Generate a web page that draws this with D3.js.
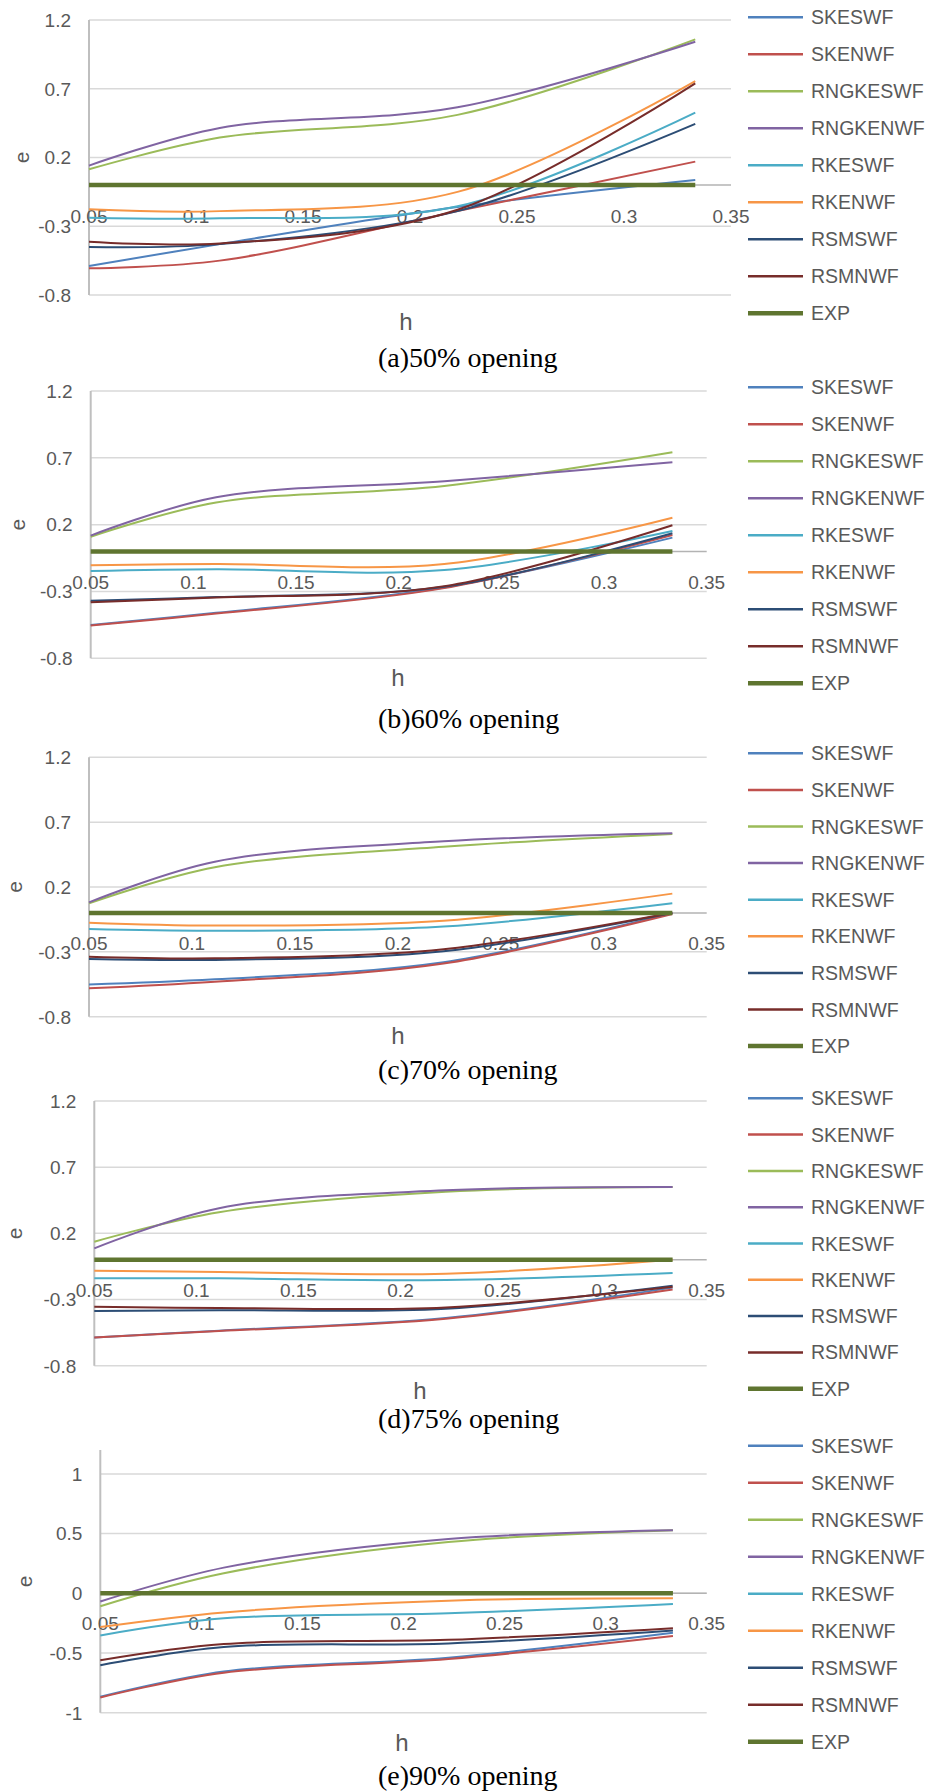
<!DOCTYPE html>
<html>
<head>
<meta charset="utf-8">
<script src="https://cdn.jsdelivr.net/npm/d3@7"></script>
<style>
  body { margin: 0; background: #fff; }
  svg { display: block; }
  text { font-family: "Liberation Sans", Arial, sans-serif; fill: #595959; }
  .caption { font-family: "Liberation Serif", "Times New Roman", serif; fill: #000; }
</style>
</head>
<body>
<svg width="927" height="1791"></svg>
<script>
// data points sit at h = 0.05, 1/9, 2/9, 1/3
var hValues = [0.05, 0.1111, 0.2222, 0.3333];
var seriesNames = ['SKESWF', 'SKENWF', 'RNGKESWF', 'RNGKENWF', 'RKESWF', 'RKENWF', 'RSMSWF', 'RSMNWF', 'EXP'];
var xTicks = [0.05, 0.1, 0.15, 0.2, 0.25, 0.3, 0.35];
var yTicksA = [1.2, 0.7, 0.2, -0.3, -0.8];
var yTicksE = [1, 0.5, 0, -0.5, -1];
var captions = ['(a)50% opening', '(b)60% opening', '(c)70% opening', '(d)75% opening', '(e)90% opening'];

// e values, one row per series (same order as seriesNames)
var e50 = [
  [-0.589, -0.43, -0.16, 0.036],
  [-0.606, -0.55, -0.19, 0.170],
  [0.114, 0.345, 0.51, 1.059],
  [0.141, 0.415, 0.565, 1.042],
  [-0.238, -0.242, -0.155, 0.526],
  [-0.177, -0.19, -0.05, 0.756],
  [-0.451, -0.43, -0.19, 0.444],
  [-0.412, -0.425, -0.18, 0.739],
  [0, 0, 0, 0]
];
var e60 = [
  [-0.55, -0.46, -0.27, 0.103],
  [-0.555, -0.465, -0.275, 0.123],
  [0.110, 0.365, 0.49, 0.741],
  [0.118, 0.405, 0.525, 0.666],
  [-0.147, -0.134, -0.14, 0.153],
  [-0.104, -0.094, -0.095, 0.252],
  [-0.369, -0.342, -0.265, 0.135],
  [-0.381, -0.345, -0.26, 0.195],
  [0, 0, 0, 0]
];
var e70 = [
  [-0.551, -0.512, -0.38, -0.003],
  [-0.581, -0.53, -0.39, -0.008],
  [0.074, 0.352, 0.51, 0.609],
  [0.082, 0.395, 0.552, 0.614],
  [-0.124, -0.137, -0.105, 0.074],
  [-0.075, -0.097, -0.06, 0.149],
  [-0.355, -0.362, -0.295, 0.0],
  [-0.337, -0.35, -0.28, 0.002],
  [0, 0, 0, 0]
];
var e75 = [
  [-0.586, -0.535, -0.44, -0.21],
  [-0.586, -0.538, -0.445, -0.225],
  [0.137, 0.36, 0.515, 0.55],
  [0.087, 0.39, 0.525, 0.55],
  [-0.14, -0.14, -0.153, -0.10],
  [-0.082, -0.092, -0.105, 0.0],
  [-0.387, -0.381, -0.37, -0.195],
  [-0.354, -0.364, -0.36, -0.203],
  [0, 0, 0, 0]
];
var e90 = [
  [-0.867, -0.655, -0.54, -0.331],
  [-0.872, -0.665, -0.55, -0.358],
  [-0.108, 0.168, 0.43, 0.528],
  [-0.069, 0.215, 0.455, 0.528],
  [-0.353, -0.21, -0.168, -0.089],
  [-0.283, -0.16, -0.062, -0.042],
  [-0.603, -0.45, -0.42, -0.311],
  [-0.561, -0.425, -0.39, -0.292],
  [0, 0, 0, 0]
];

var colors = ['#4F81BD', '#C0504D', '#9BBB59', '#8064A2', '#4BACC6', '#F79646', '#2C4D75', '#772C2A', '#5F7530'];

var panels = [
  { data: e50, yDomain: [-0.8, 1.2], yTicks: yTicksA, left: 89, right: 731, top: 20, bottom: 295,
    xLabY: 216, eX: 21, hX: 406, hY: 321, capY: 367, legY: 17.3, legStep: 37 },
  { data: e60, yDomain: [-0.8, 1.2], yTicks: yTicksA, left: 90.7, right: 706.7, top: 391, bottom: 658.3,
    xLabY: 582, eX: 17, hX: 398, hY: 677, capY: 728, legY: 387.3, legStep: 37 },
  { data: e70, yDomain: [-0.8, 1.2], yTicks: yTicksA, left: 89, right: 706.7, top: 757.3, bottom: 1016.7,
    xLabY: 943, eX: 14, hX: 398, hY: 1035, capY: 1079, legY: 753.3, legStep: 36.6 },
  { data: e75, yDomain: [-0.8, 1.2], yTicks: yTicksA, left: 94.3, right: 706.7, top: 1101, bottom: 1365.7,
    xLabY: 1290, eX: 14, hX: 420, hY: 1390, capY: 1427.5, legY: 1098.3, legStep: 36.3 },
  { data: e90, yDomain: [-1, 1.2], yTicks: yTicksE, left: 100.3, right: 706.7, top: 1450, bottom: 1712.7,
    xLabY: 1623, eX: 24, hX: 402, hY: 1742, capY: 1785, legY: 1445.7, legStep: 37 }
];

var svg = d3.select('svg');

panels.forEach(function (p, pi) {
  var g = svg.append('g');
  var x = d3.scaleLinear().domain([0.05, 0.35]).range([p.left, p.right]);
  var y = d3.scaleLinear().domain(p.yDomain).range([p.bottom, p.top]);

  /* ----------- GRID ----------- */
  g.selectAll('line.grid').data(p.yTicks).enter().append('line')
    .attr('x1', p.left).attr('x2', p.right)
    .attr('y1', function (d) { return y(d); }).attr('y2', function (d) { return y(d); })
    .attr('stroke', '#d9d9d9').attr('stroke-width', 1.5);

  // horizontal axis sits at e = 0
  g.append('line')
    .attr('x1', p.left).attr('x2', p.right).attr('y1', y(0)).attr('y2', y(0))
    .attr('stroke', '#b3b3b3').attr('stroke-width', 1.5);

  g.append('line')
    .attr('x1', p.left).attr('x2', p.left).attr('y1', y(p.yDomain[1])).attr('y2', y(p.yDomain[0]))
    .attr('stroke', '#bfbfbf').attr('stroke-width', 2);

  /* ----------- LABELS ----------- */
  g.selectAll('text.ytick').data(p.yTicks).enter().append('text')
    .attr('x', p.left - 18).attr('y', function (d) { return y(d); })
    .attr('dy', '0.36em').attr('text-anchor', 'end')
    .style('font-size', '19px')
    .text(function (d) { return d; });

  g.selectAll('text.xtick').data(xTicks).enter().append('text')
    .attr('x', function (d) { return x(d); }).attr('y', p.xLabY)
    .attr('dy', '0.36em').attr('text-anchor', 'middle')
    .style('font-size', '19px')
    .text(function (d) { return d; });

  g.append('text')
    .attr('transform', 'translate(' + p.eX + ',' + ((p.top + p.bottom) / 2) + ') rotate(-90)')
    .attr('text-anchor', 'middle').attr('dy', '0.36em')
    .style('font-size', '21px').text('e');

  g.append('text')
    .attr('x', p.hX).attr('y', p.hY).attr('dy', '0.36em').attr('text-anchor', 'middle')
    .style('font-size', '24px').text('h');

  g.append('text').attr('class', 'caption')
    .attr('x', 378).attr('y', p.capY)
    .style('font-size', '28px').text(captions[pi]);

  /* ----------- SERIES ----------- */
  var line = d3.line()
    .x(function (d, i) { return x(hValues[i]); })
    .y(function (d) { return y(d); })
    .curve(d3.curveCatmullRom.alpha(0.5));

  g.selectAll('path.series').data(p.data).enter().append('path')
    .attr('fill', 'none')
    .attr('stroke', function (d, i) { return colors[i]; })
    .attr('stroke-width', function (d, i) { return seriesNames[i] === 'EXP' ? 4.5 : 2; })
    .attr('d', line);

  /* ----------- LEGEND ----------- */
  var leg = g.selectAll('g.leg').data(seriesNames).enter().append('g')
    .attr('transform', function (d, i) { return 'translate(748,' + (p.legY + i * p.legStep) + ')'; });
  leg.append('line')
    .attr('x1', 0).attr('x2', 55).attr('y1', 0).attr('y2', 0)
    .attr('stroke', function (d, i) { return colors[i]; })
    .attr('stroke-width', function (d) { return d === 'EXP' ? 4.5 : 2.5; });
  leg.append('text')
    .attr('x', 63).attr('y', 0).attr('dy', '0.36em')
    .style('font-size', '19.5px')
    .text(function (d) { return d; });
});
</script>
</body>
</html>
